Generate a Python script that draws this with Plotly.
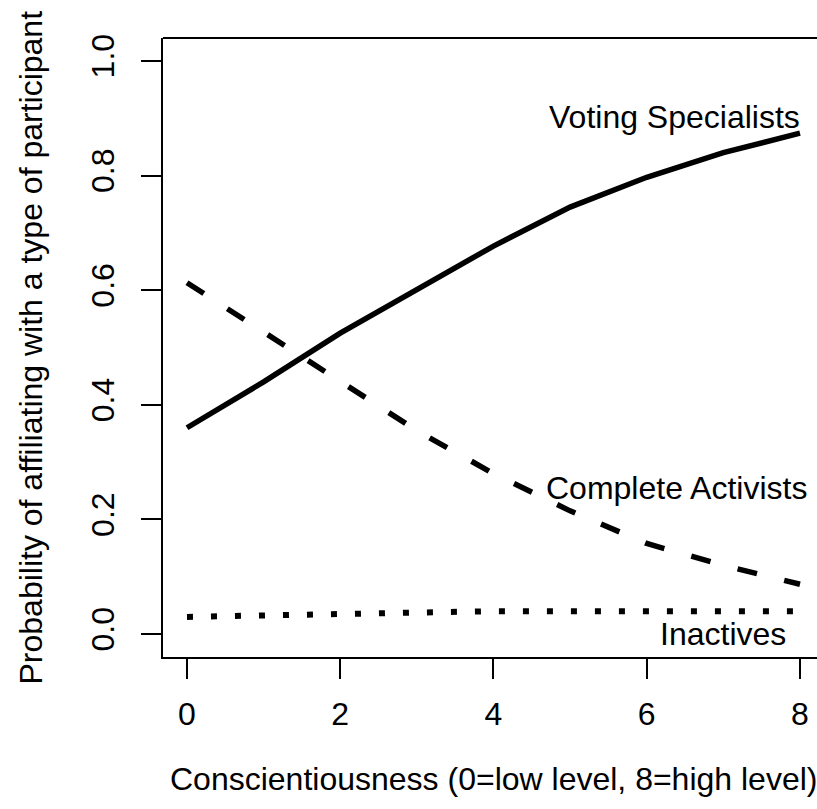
import plotly.graph_objects as go

# ---- data ----
conscientiousness = [0, 1, 2, 3, 4, 5, 6, 7, 8]
voting_specialists = [0.360, 0.440, 0.525, 0.602, 0.677, 0.745, 0.797, 0.840, 0.874]
complete_activists = [0.613, 0.527, 0.440, 0.355, 0.280, 0.215, 0.158, 0.120, 0.087]
inactives = [0.030, 0.033, 0.036, 0.038, 0.040, 0.040, 0.040, 0.040, 0.040]

x_ticks = [0, 2, 4, 6, 8]
y_ticks = [0.0, 0.2, 0.4, 0.6, 0.8, 1.0]
y_ticktext = ["0.0", "0.2", "0.4", "0.6", "0.8", "1.0"]

FONT = "Liberation Sans, Arial, Helvetica, sans-serif"
FS = 32

fig = go.Figure()
fig.add_trace(go.Scatter(x=conscientiousness, y=voting_specialists, mode="lines",
                         line=dict(color="black", width=5.5), showlegend=False))
fig.add_trace(go.Scatter(x=conscientiousness, y=complete_activists, mode="lines",
                         line=dict(color="black", width=5.5, dash="20px,28px"), showlegend=False))
fig.add_trace(go.Scatter(x=conscientiousness, y=inactives, mode="lines",
                         line=dict(color="black", width=6, dash="6px,18px"), showlegend=False))

annotations = [
    dict(x=8.02, y=0.902, xref="x", yref="y", text="Voting Specialists", showarrow=False,
         xanchor="right", yanchor="middle", font=dict(family=FONT, size=FS, color="black")),
    dict(x=8.12, y=0.255, xref="x", yref="y", text="Complete Activists", showarrow=False,
         xanchor="right", yanchor="middle", font=dict(family=FONT, size=FS, color="black")),
    dict(x=7.84, y=0.0, xref="x", yref="y", text="Inactives", showarrow=False,
         xanchor="right", yanchor="middle", font=dict(family=FONT, size=FS, color="black")),
    dict(x=0.5, y=0, xref="paper", yref="paper", yshift=-122, xshift=3,
         text="Conscientiousness (0=low level, 8=high level)", showarrow=False,
         xanchor="center", yanchor="middle", font=dict(family=FONT, size=FS, color="black")),
    dict(x=0, y=0.5, xref="paper", yref="paper", xshift=-133, textangle=-90,
         text="Probability of affiliating with a type of participant", showarrow=False,
         xanchor="center", yanchor="middle", font=dict(family=FONT, size=FS, color="black")),
]

fig.update_layout(
    width=817, height=809,
    margin=dict(l=163, r=0, t=38, b=152),
    paper_bgcolor="white", plot_bgcolor="white",
    font=dict(family=FONT, size=FS, color="black"),
    annotations=annotations,
    hovermode=False,
    shapes=[dict(type="line", xref="paper", yref="paper", x0=0, x1=1, y0=1, y1=1,
                 line=dict(color="black", width=2))],
    xaxis=dict(range=[-0.313, 8.222], tickvals=x_ticks, ticks="outside", ticklen=20,
               tickwidth=2, tickcolor="black", showline=True, linecolor="black", linewidth=2,
               showgrid=False, zeroline=False, ticklabelstandoff=8,
               tickfont=dict(family=FONT, size=FS, color="black")),
    yaxis=dict(range=[-0.04, 1.04], tickvals=y_ticks, ticktext=y_ticktext, ticks="outside",
               ticklen=20, tickwidth=2, tickcolor="black", showline=True, linecolor="black",
               linewidth=2, showgrid=False, zeroline=False, tickangle=-90, ticklabelstandoff=14,
               tickfont=dict(family=FONT, size=FS, color="black")),
)

fig.write_html("out.html", config={"displayModeBar": False},
               post_script="document.body.style.margin='0px';")
